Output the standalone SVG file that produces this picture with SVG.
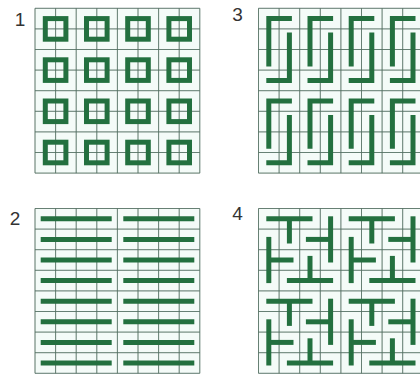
<svg xmlns="http://www.w3.org/2000/svg" xmlns:xlink="http://www.w3.org/1999/xlink" width="420" height="376" viewBox="0 0 420 376">
  <style>
    .bg { fill: #f4fbf8; }
    .grid { fill: none; stroke: #627c6f; stroke-width: 0.9; }
    .gridover { fill: none; stroke: #3f5a4c; stroke-width: 0.9; stroke-opacity: 0.22; }
    .bar { fill: none; stroke: #23703f; stroke-width: 5; stroke-linecap: square; stroke-linejoin: miter; }
    .stem { fill: none; stroke: #23703f; stroke-width: 5; stroke-linecap: butt; }
    .sq { fill: none; stroke: #23703f; stroke-width: 5; }
    .num { font-family: "Liberation Sans", Arial, sans-serif; font-size: 19px; fill: #333333; text-anchor: middle; }
  </style>
  <defs>
    <path id="gridpath" d="M0 0H164.8M0 20.6H164.8M0 41.2H164.8M0 61.8H164.8M0 82.4H164.8M0 103H164.8M0 123.6H164.8M0 144.2H164.8M0 164.8H164.8M0 0V164.8M20.6 0V164.8M41.2 0V164.8M61.8 0V164.8M82.4 0V164.8M103 0V164.8M123.6 0V164.8M144.2 0V164.8M164.8 0V164.8"/>
    <g id="u3">
      <path class="bar" d="M30.9 10.3H10.3V55.6"/>
      <path class="bar" d="M30.9 26.8V72.1H10.3"/>
    </g>
    <g id="u4">
      <path class="bar" d="M10.3 10.3H51.5"/>
      <path class="stem" d="M30.9 10.3V35"/>
      <path class="bar" d="M72.1 10.3V51.5"/>
      <path class="stem" d="M72.1 30.9H47.4"/>
      <path class="bar" d="M72.1 72.1H30.9"/>
      <path class="stem" d="M51.5 72.1V47.4"/>
      <path class="bar" d="M10.3 72.1V30.9"/>
      <path class="stem" d="M10.3 51.5H35"/>
    </g>
  </defs>

  <g id="panel1">
    <text class="num" x="20" y="25.5">1</text>
    <rect class="bg" x="35" y="8.3" width="164.8" height="164.8"/>
    <use href="#gridpath" class="grid" transform="translate(35,8.3)"/>
    <g id="squares1">
      <rect class="sq" x="45.3" y="18.6" width="20.6" height="20.6"/>
      <rect class="sq" x="86.5" y="18.6" width="20.6" height="20.6"/>
      <rect class="sq" x="127.7" y="18.6" width="20.6" height="20.6"/>
      <rect class="sq" x="168.9" y="18.6" width="20.6" height="20.6"/>
      <rect class="sq" x="45.3" y="59.8" width="20.6" height="20.6"/>
      <rect class="sq" x="86.5" y="59.8" width="20.6" height="20.6"/>
      <rect class="sq" x="127.7" y="59.8" width="20.6" height="20.6"/>
      <rect class="sq" x="168.9" y="59.8" width="20.6" height="20.6"/>
      <rect class="sq" x="45.3" y="101" width="20.6" height="20.6"/>
      <rect class="sq" x="86.5" y="101" width="20.6" height="20.6"/>
      <rect class="sq" x="127.7" y="101" width="20.6" height="20.6"/>
      <rect class="sq" x="168.9" y="101" width="20.6" height="20.6"/>
      <rect class="sq" x="45.3" y="142.2" width="20.6" height="20.6"/>
      <rect class="sq" x="86.5" y="142.2" width="20.6" height="20.6"/>
      <rect class="sq" x="127.7" y="142.2" width="20.6" height="20.6"/>
      <rect class="sq" x="168.9" y="142.2" width="20.6" height="20.6"/>
    </g>
    <use href="#gridpath" class="gridover" transform="translate(35,8.3)"/>
  </g>

  <g id="panel3">
    <text class="num" x="237.5" y="20.5">3</text>
    <rect class="bg" x="258.5" y="8.3" width="164.8" height="164.8"/>
    <use href="#gridpath" class="grid" transform="translate(258.5,8.3)"/>
    <use href="#u3" transform="translate(258.5,8.3)"/>
    <use href="#u3" transform="translate(299.7,8.3)"/>
    <use href="#u3" transform="translate(340.9,8.3)"/>
    <use href="#u3" transform="translate(382.1,8.3)"/>
    <use href="#u3" transform="translate(258.5,90.7)"/>
    <use href="#u3" transform="translate(299.7,90.7)"/>
    <use href="#u3" transform="translate(340.9,90.7)"/>
    <use href="#u3" transform="translate(382.1,90.7)"/>
    <use href="#gridpath" class="gridover" transform="translate(258.5,8.3)"/>
  </g>

  <g id="panel2">
    <text class="num" x="15" y="225">2</text>
    <rect class="bg" x="35" y="208.5" width="164.8" height="164.8"/>
    <use href="#gridpath" class="grid" transform="translate(35,208.5)"/>
    <path class="stem" d="M40.7 218.8H111.7M123.3 218.8H194.3M40.7 239.4H111.7M123.3 239.4H194.3M40.7 260H111.7M123.3 260H194.3M40.7 280.6H111.7M123.3 280.6H194.3M40.7 301.2H111.7M123.3 301.2H194.3M40.7 321.8H111.7M123.3 321.8H194.3M40.7 342.4H111.7M123.3 342.4H194.3M40.7 363H111.7M123.3 363H194.3"/>
    <use href="#gridpath" class="gridover" transform="translate(35,208.5)"/>
  </g>

  <g id="panel4">
    <text class="num" x="237.5" y="220">4</text>
    <rect class="bg" x="258.5" y="208.5" width="164.8" height="164.8"/>
    <use href="#gridpath" class="grid" transform="translate(258.5,208.5)"/>
    <use href="#u4" transform="translate(258.5,208.5)"/>
    <use href="#u4" transform="translate(340.9,208.5)"/>
    <use href="#u4" transform="translate(258.5,290.9)"/>
    <use href="#u4" transform="translate(340.9,290.9)"/>
    <use href="#gridpath" class="gridover" transform="translate(258.5,208.5)"/>
  </g>
</svg>
